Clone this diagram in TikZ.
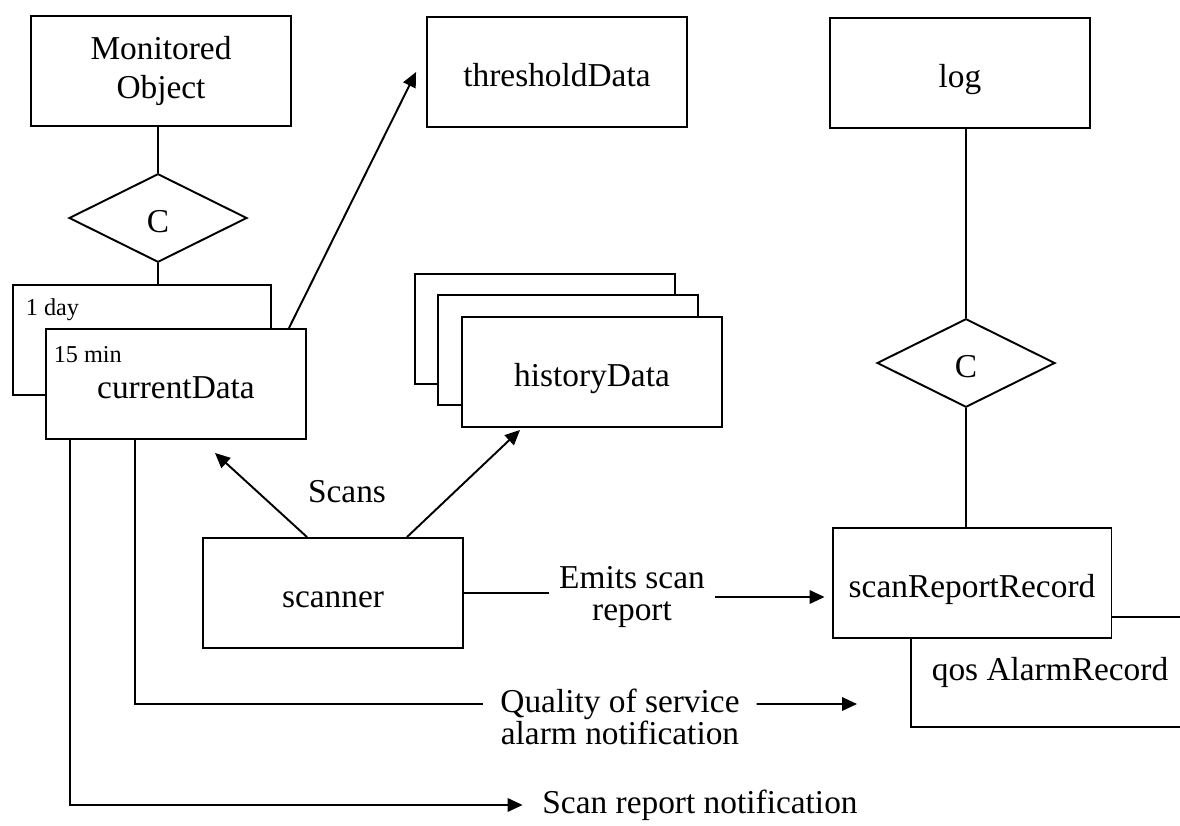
\documentclass[tikz,border=0pt]{standalone}
\usepackage{fontspec}
\setmainfont{Liberation Serif}
\usepackage{tikz}
\usetikzlibrary{shapes.geometric,arrows.meta,calc}

\tikzset{
  entity/.style={draw, fill=white, minimum width=5.2cm, minimum height=2.2cm,
    inner sep=0pt, align=center, font=\fontsize{19}{22.7}\selectfont},
  oneline/.style={text height=16.7pt, text depth=0pt},
  rel/.style={draw, diamond, fill=white, minimum width=3.56cm, minimum height=1.77cm,
    inner sep=0pt, oneline, font=\fontsize{19}{22.7}\selectfont},
  lbl/.style={align=center, font=\fontsize{19}{18}\selectfont},
  tag/.style={anchor=west, font=\fontsize{13.8}{16}\selectfont}
}

\begin{document}
\begin{tikzpicture}[x=0.02cm, y=-0.02cm, line width=1.1pt,
    >={Triangle[length=0.3cm, width=0.27cm]}]
    \useasboundingbox (0,0) rectangle (1180,825);
    \clip (0,0) rectangle (1180,825);

    % Top row of entities
    \node[entity] (mo) at (161,71) {Monitored\\Object};
    \node[entity, oneline] (thr) at (557,72) {thresholdData};
    \node[entity, oneline] (log) at (960,73) {log};

    % Relationships
    \node[rel] (cl) at (158,218) {C};
    \node[rel] (cr) at (966,363) {C};

    % currentData (1 day behind 15 min)
    \node[entity, minimum width=5.16cm] (day) at (142,340) {};
    \node[entity, oneline] (cur) at (176,384) {currentData};
    \node[tag] (dayl) at (19,310) {1 day};
    \node[tag] (minl) at (47,355) {15 min};

    % historyData stack
    \foreach \i/\x/\y in {1/545/329, 2/568/350}
        \node[entity] (hist\i) at (\x,\y) {};
    \node[entity, oneline] (hist) at (592,372) {historyData};

    \node[entity, oneline] (scan) at (333,593) {scanner};

    % Records
    \node[entity, minimum width=5.56cm] (qos) at (1050,672) {qos AlarmRecord};
    \node[entity, oneline, minimum width=5.58cm] (srr) at (972,583) {scanReportRecord};

    % Labels
    \node[lbl] (scans) at (347,492) {Scans};
    \node[lbl, inner xsep=0.18cm] (emit) at (632,597) {Emits scan\\report};
    \node[lbl, inner xsep=0.32cm] (qual) at (620,717) {Quality of service\\alarm notification};
    \node[lbl] (srn) at (700,805) {Scan report notification};
    \coordinate (qosin) at (857,704);

    % Connectors
    \draw (cl.north |- mo.south) -- (cl.north);
    \draw (cl.south) -- (cl.south |- day.north);
    \draw (log.south -| cr.north) -- (cr.north);
    \draw (cr.south) -- (cr.south |- srr.north);
    \draw[->] ([xshift=-0.36cm]cur.north east) -- ([xshift=-0.2cm]thr.west);
    \draw[->] ([xshift=-0.52cm]scan.north) -- ([xshift=0.78cm, yshift=-0.26cm]cur.south);
    \draw[->] ([xshift=1.48cm]scan.north) -- ([xshift=-1.44cm, yshift=-0.04cm]hist.south);
    \draw (scan.east) -- (scan.east -| emit.west);
    \draw[->] (emit.east) -- ([xshift=-0.14cm]emit.east -| srr.west);
    \draw ([xshift=-0.82cm]cur.south) |- ([yshift=0.26cm]qual.west);
    \draw[->] ([yshift=0.26cm]qual.east) -- (qosin);
    \draw[->] ([xshift=-2.12cm]cur.south) |- ([xshift=-0.26cm]srn.west);
\end{tikzpicture}
\end{document}
